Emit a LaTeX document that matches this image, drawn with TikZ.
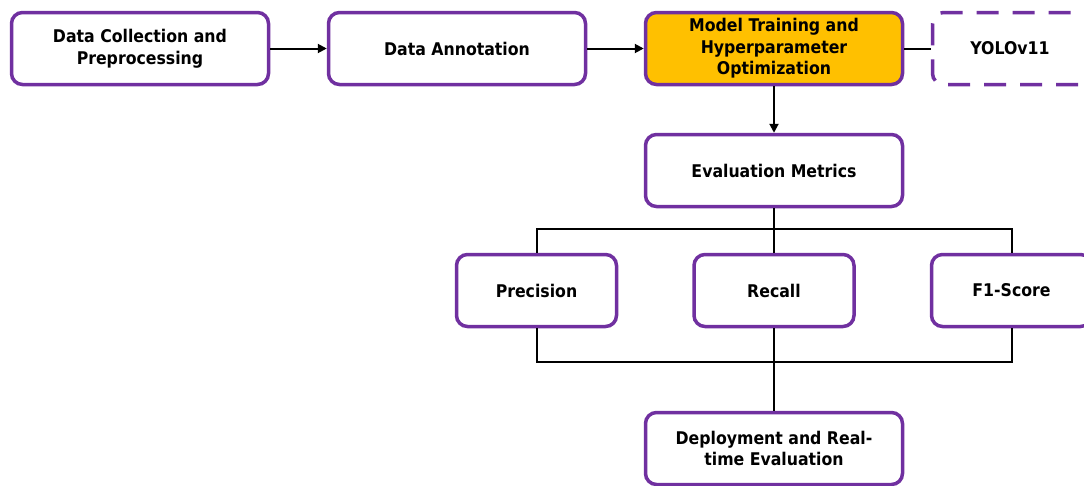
\documentclass[tikz,border=0pt]{standalone}
\usepackage{fontspec}
\setmainfont{DejaVu Sans Condensed}
\usetikzlibrary{arrows.meta}
\definecolor{boxpurple}{HTML}{7030A0}
\definecolor{boxgold}{HTML}{FFC000}
\begin{document}
\begin{tikzpicture}[x=1pt,y=-1pt,
  label/.style={font=\fontsize{17.5}{21.5}\selectfont\bfseries, align=center},
  stage/.style={draw=boxpurple, line width=3.5pt, rounded corners=11pt, fill=white,
    minimum width=#1, minimum height=72pt, inner sep=2pt, label},
  stage/.default=257pt,
  link/.style={line width=2pt, black},
  arrow/.style={link, -{Triangle[length=9pt,width=9pt]}}]
\useasboundingbox (0,0) rectangle (1084,485);
\clip (0,0) rectangle (1084,485);
\node[stage] (collect) at (140,48.5) {Data Collection and\\Preprocessing};
\node[stage] (annot) at (457,48.5) {Data Annotation};
\node[stage, fill=boxgold] (train) at (774,48.5) {Model Training and\\Hyperparameter\\Optimization};
\node[stage, dashed, dash pattern=on 22pt off 14pt] (yolo) at (1061,48.5) {};
\node[label] (yololabel) at (1010,48.5) {YOLOv11};
\node[stage] (eval) at (774,170.5) {Evaluation Metrics};
\node[stage=160pt] (prec) at (536.5,290.5) {Precision};
\node[stage=160pt] (rec) at (774,290.5) {Recall};
\node[stage=160pt] (f1) at (1011.5,290.5) {F1-Score};
\node[stage] (deploy) at (774,448.5) {Deployment and Real-\\time Evaluation};
% main flow
\draw[arrow] (collect.east) -- (annot.west);
\draw[arrow] (annot.east) -- (train.west);
\draw[link] (train.east) -- (yolo.west);
\draw[arrow] (train.south) -- (eval.north);
% fan out to the metrics
\coordinate (split) at (774,229);
\coordinate (join) at (774,362);
\draw[link] (eval.south) -- (split);
\draw[link] (prec.north) |- (split) -| (f1.north);
\draw[link] (split) -- (rec.north);
% gather the metrics
\draw[link] (prec.south) |- (join) -| (f1.south);
\draw[link] (rec.south) -- (join) -- (deploy.north);
\end{tikzpicture}
\end{document}
